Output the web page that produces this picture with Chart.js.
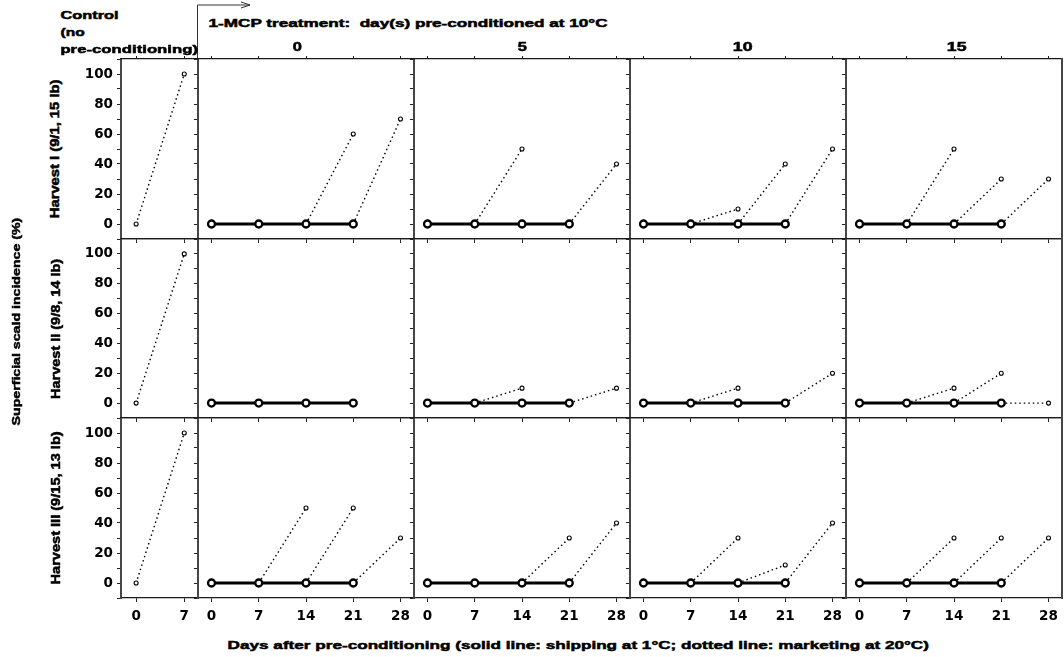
<!DOCTYPE html>
<html>
<head>
<meta charset="utf-8">
<script src="https://cdn.jsdelivr.net/npm/chart.js@4.4.0/dist/chart.umd.min.js"></script>
<style>
html, body { margin: 0; padding: 0; background: #fff; }
body { width: 1064px; height: 657px; position: relative; overflow: hidden; }
canvas { position: absolute; }
.lbl { position: absolute; font-family: "Liberation Sans", Arial, sans-serif; font-weight: bold;
       white-space: pre; line-height: 1.15; color: #000; transform-origin: 50% 50%;
       -webkit-text-stroke: 0.5px #000; }
svg { position: absolute; left: 0; top: 0; }
</style>
</head>
<body>
<svg width="1064" height="657">
  <polyline points="197.5,59 197.5,5 250,5" fill="none" stroke="#333" stroke-width="1"/>
  <polyline points="241,2 250,5 241,8" fill="none" stroke="#333" stroke-width="1"/>
</svg>
<script>
// days on the x axis
const controlDays = [0, 7];
const shipDays = [0, 7, 14, 21];
const marketDays = [7, 14, 21, 28];
const mainTicks = [0, 7, 14, 21, 28];
const yTicks = [-10, 0, 10, 20, 30, 40, 50, 60, 70, 80, 90, 100, 110];
const yLabels = [0, 20, 40, 60, 80, 100];

const preconditionDays = ['0', '5', '10', '15'];
const harvests = ['Harvest I (9/1, 15 lb)', 'Harvest II (9/8, 14 lb)', 'Harvest III (9/15, 13 lb)'];

// control: scald (%) at day 0 and after 7 days marketing
const controlH1 = [0, 100];
const controlH2 = [0, 100];
const controlH3 = [0, 100];

// shipping at 1°C (solid line), per pre-conditioning column
const shipH1 = [[0, 0, 0, 0], [0, 0, 0, 0], [0, 0, 0, 0], [0, 0, 0, 0]];
const shipH2 = [[0, 0, 0, 0], [0, 0, 0, 0], [0, 0, 0, 0], [0, 0, 0, 0]];
const shipH3 = [[0, 0, 0, 0], [0, 0, 0, 0], [0, 0, 0, 0], [0, 0, 0, 0]];

// marketing at 20°C (dotted line) after each shipping period
const marketH1 = [[0, 0, 60, 70], [0, 50, 0, 40], [0, 10, 40, 50], [0, 50, 30, 30]];
const marketH2 = [[0, 0, 0, null], [0, 10, 0, 10], [0, 10, 0, 20], [0, 10, 20, 0]];
const marketH3 = [[0, 50, 50, 30], [0, 0, 30, 40], [0, 30, 12, 40], [0, 30, 30, 30]];

const controls = [controlH1, controlH2, controlH3];
const ships = [shipH1, shipH2, shipH3];
const markets = [marketH1, marketH2, marketH3];

// panel frame positions on the page
const colEdges = [121, 198, 414, 630, 846, 1062];
const rowEdges = [59, 239, 418, 598];

const tickFont = { family: '"DejaVu Sans", sans-serif', weight: 'bold', size: 13.5 };

function noPad(s) {
  s.paddingTop = 0; s.paddingBottom = 0; s.paddingLeft = 0; s.paddingRight = 0;
}

function dotted(points, radii) {
  return {
    data: points, borderColor: '#000', borderWidth: 1.4, borderDash: [1.5, 3],
    pointRadius: radii, pointBorderWidth: 1.1, pointBackgroundColor: '#fff',
    pointBorderColor: '#000', tension: 0, fill: false, order: 1
  };
}

function makePanel(row, col, datasets, xMin, xMax, xTicks) {
  const isControl = col === 0;
  const bottom = row === 2;
  const L = isControl ? 51 : 5, T = 5, R = 2, B = bottom ? 36 : 5;
  const px = colEdges[col], w = colEdges[col + 1] - px;
  const py = rowEdges[row], h = rowEdges[row + 1] - py;

  const cv = document.createElement('canvas');
  cv.width = L + w + R;
  cv.height = T + h + B;
  cv.style.left = (px - L) + 'px';
  cv.style.top = (py - T) + 'px';
  document.body.appendChild(cv);

  const vLine = { display: true, color: '#474747', width: 2 };
  const hLine = { display: true, color: '#1a1a1a', width: 1.3 };

  new Chart(cv.getContext('2d'), {
    type: 'line',
    data: { datasets: datasets },
    options: {
      responsive: false,
      animation: false,
      events: [],
      clip: false,
      layout: { padding: 0, autoPadding: false },
      plugins: { legend: { display: false }, tooltip: { enabled: false } },
      scales: {
        x: {
          type: 'linear', position: 'bottom', min: xMin, max: xMax,
          afterFit: s => { s.height = B; noPad(s); },
          afterBuildTicks: s => { s.ticks = xTicks.map(v => ({ value: v })); },
          grid: { drawOnChartArea: false, drawTicks: true, tickLength: 4, color: '#222', lineWidth: 1 },
          border: hLine,
          ticks: { display: bottom, font: tickFont, color: '#000', padding: 6, maxRotation: 0, autoSkip: false }
        },
        y: {
          type: 'linear', position: 'left', min: -10, max: 110,
          afterFit: s => { s.width = L; noPad(s); },
          afterBuildTicks: s => { s.ticks = yTicks.map(v => ({ value: v })); },
          grid: { drawOnChartArea: false, drawTicks: true, tickLength: 4, color: '#222', lineWidth: 1 },
          border: vLine,
          ticks: {
            display: isControl, font: tickFont, color: '#000', padding: 4, autoSkip: false,
            callback: v => yLabels.includes(v) ? v : ''
          }
        },
        xt: {
          type: 'linear', position: 'top', min: xMin, max: xMax,
          afterFit: s => { s.height = T; noPad(s); },
          afterBuildTicks: s => { s.ticks = xTicks.map(v => ({ value: v })); },
          grid: { display: row === 0, drawOnChartArea: false, drawTicks: true, tickLength: 3, color: '#222', lineWidth: 1 },
          border: hLine,
          ticks: { display: false }
        },
        yr: {
          type: 'linear', position: 'right', min: -10, max: 110,
          afterFit: s => { s.width = R; noPad(s); },
          grid: { display: false },
          border: vLine,
          ticks: { display: false }
        }
      }
    }
  });
}

for (let r = 0; r < 3; r++) {
  const c = controls[r];
  makePanel(r, 0, [dotted(controlDays.map((d, i) => ({ x: d, y: c[i] })), 2)], -2.2, 9, controlDays);

  for (let k = 0; k < 4; k++) {
    const ship = ships[r][k];
    const market = markets[r][k];
    const sets = [{
      data: shipDays.map((d, i) => ({ x: d, y: ship[i] })),
      borderColor: '#000', borderWidth: 3, pointRadius: 3.5, pointBorderWidth: 2.3,
      pointBackgroundColor: '#fff', pointBorderColor: '#000', tension: 0, fill: false, order: 0
    }];
    shipDays.forEach((d, i) => {
      if (market[i] === null) return;
      sets.push(dotted([{ x: d, y: ship[i] }, { x: marketDays[i], y: market[i] }], [0, 2]));
    });
    makePanel(r, k + 1, sets, -2, 30, mainTicks);
  }
}

// text labels, stretched to the widths seen in the figure
function addLabel(text, cx, cy, size, length, rotate) {
  const el = document.createElement('div');
  el.className = 'lbl';
  el.textContent = text;
  el.style.fontSize = size + 'px';
  document.body.appendChild(el);
  const w = el.offsetWidth, h = el.offsetHeight;
  el.style.left = (cx - w / 2) + 'px';
  el.style.top = (cy - h / 2) + 'px';
  el.style.transform = (rotate ? 'rotate(-90deg) ' : '') + 'scaleX(' + (length / w) + ')';
}

addLabel('Control', 60 + 29, 15, 11, 58);
addLabel('(no', 60 + 12, 32, 11, 24);
addLabel('pre-conditioning)', 60 + 68.5, 49, 11, 137);
addLabel('1-MCP treatment:  day(s) pre-conditioned at 10°C', 208 + 199.5, 23, 11, 399);

const headerX = [297, 522, 742, 956];
preconditionDays.forEach((t, i) => addLabel(t, headerX[i], 48, 12, 9.6 * t.length));

const rowLen = [139, 140, 153];
harvests.forEach((t, i) => addLabel(t, 56.5, (rowEdges[i] + rowEdges[i + 1]) / 2, 12, rowLen[i], true));

addLabel('Superficial scald incidence (%)', 16.5, 321, 11.5, 208, true);
addLabel('Days after pre-conditioning (solid line: shipping at 1°C; dotted line: marketing at 20°C)', 578, 645.5, 11.5, 702);
</script>
</body>
</html>
